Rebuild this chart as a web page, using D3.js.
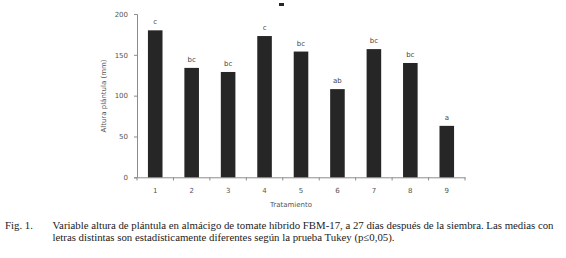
<!DOCTYPE html>
<html>
<head>
<script src="https://d3js.org/d3.v7.min.js"></script>
<style>
    body { margin: 0; background: #fff; }
    .caption { font-family: "Liberation Serif", "Times New Roman", serif; font-size: 10.8px; fill: #222; }
    .tick text { font-family: Verdana, "DejaVu Sans", sans-serif; font-size: 7px; fill: #555; }
</style>
</head>
<body>
<div id="chart"></div>
<script>
var tratamientos = ["1", "2", "3", "4", "5", "6", "7", "8", "9"];
var altura = [180, 134, 129, 173, 154, 108, 157, 140, 63];
var letras = ["c", "bc", "bc", "c", "bc", "ab", "bc", "bc", "a"];
var yTicks = [0, 50, 100, 150, 200];

var svg = d3.select("#chart").append("svg")
    .attr("width", 566)
    .attr("height", 258);

var x = d3.scaleBand()
    .domain(tratamientos)
    .range([137, 465])
    .paddingInner(0.6)
    .paddingOuter(0.3);

var y = d3.scaleLinear()
    .domain([0, 200])
    .range([177.3, 14]);

var gray = "#8c8c8c";

// y axis
var yAxis = svg.append("g")
    .attr("transform", "translate(137,0)")
    .call(d3.axisLeft(y).tickValues(yTicks).tickSize(3).tickPadding(6));
yAxis.selectAll("line, path").attr("stroke", gray);

// x axis, ticks on category boundaries
var xAxis = svg.append("g")
    .attr("transform", "translate(0,177.3)")
    .call(d3.axisBottom(x).tickSize(0).tickPadding(11));
xAxis.select("path").attr("stroke", gray);
svg.selectAll(".xsep")
    .data(d3.range(tratamientos.length + 1))
    .enter()
    .append("line")
    .attr("x1", function(d) { return 137 + d * (328 / 9); })
    .attr("x2", function(d) { return 137 + d * (328 / 9); })
    .attr("y1", 177.3)
    .attr("y2", 180.5)
    .attr("stroke", gray);

// bars
svg.selectAll(".bar")
    .data(altura)
    .enter()
    .append("rect")
    .attr("x", function(d, i) { return x(tratamientos[i]); })
    .attr("y", function(d) { return y(d); })
    .attr("width", x.bandwidth())
    .attr("height", function(d) { return y(0) - y(d); })
    .attr("fill", "#262626");

// letters
svg.selectAll(".letra")
    .data(altura)
    .enter()
    .append("text")
    .attr("x", function(d, i) { return x(tratamientos[i]) + x.bandwidth() / 2; })
    .attr("y", function(d) { return y(d) - 6; })
    .attr("text-anchor", "middle")
    .attr("font-family", "Verdana, 'DejaVu Sans', sans-serif")
    .attr("font-size", 7)
    .attr("fill", "#444")
    .text(function(d, i) { return letras[i]; });

// axis titles
svg.append("text")
    .attr("transform", "translate(106,96) rotate(-90)")
    .attr("text-anchor", "middle")
    .attr("font-family", "Verdana, 'DejaVu Sans', sans-serif")
    .attr("font-size", 7)
    .attr("fill", "#555")
    .text("Altura plántula (mm)");

svg.append("text")
    .attr("x", 291)
    .attr("y", 207)
    .attr("text-anchor", "middle")
    .attr("font-family", "Verdana, 'DejaVu Sans', sans-serif")
    .attr("font-size", 7)
    .attr("fill", "#555")
    .text("Tratamiento");

// legend remnant
svg.append("rect")
    .attr("x", 279).attr("y", 3)
    .attr("width", 5).attr("height", 3)
    .attr("fill", "#262626");

// caption
svg.append("text").attr("class", "caption").attr("x", 5).attr("y", 228.5).text("Fig. 1.");
svg.append("text").attr("class", "caption").attr("x", 52.5).attr("y", 228.5)
    .text("Variable altura de plántula en almácigo de tomate híbrido FBM-17, a 27 días después de la siembra. Las medias con");
svg.append("text").attr("class", "caption").attr("x", 52.5).attr("y", 240.5)
    .text("letras distintas son estadísticamente diferentes según la prueba Tukey (p≤0,05).");
</script>
</body>
</html>
